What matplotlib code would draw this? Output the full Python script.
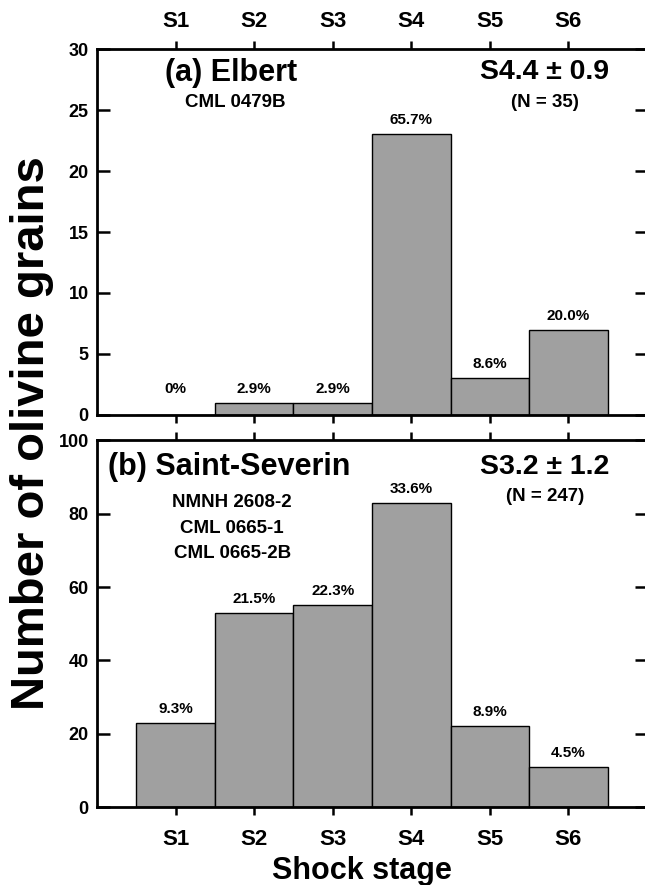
import numpy as np
import matplotlib.pyplot as plt

plt.rcParams['font.family'] = ['Liberation Sans', 'DejaVu Sans']
plt.rcParams['font.weight'] = 'bold'

stages = ['S1', 'S2', 'S3', 'S4', 'S5', 'S6']
elbert = [0, 1, 1, 23, 3, 7]
elbert_pct = ['0%', '2.9%', '2.9%', '65.7%', '8.6%', '20.0%']
severin = [23, 53, 55, 83, 22, 11]
severin_pct = ['9.3%', '21.5%', '22.3%', '33.6%', '8.9%', '4.5%']

pos = np.arange(1, 7)
bar_col = '#a0a0a0'

fig = plt.figure(figsize=(6.45, 8.85), dpi=100)
ax1 = fig.add_axes([0.1504, 0.5311, 0.8527, 0.4135])
ax2 = fig.add_axes([0.1504, 0.0881, 0.8527, 0.4142])

def style(ax, ymax, step, top_labels):
    ax.set_xlim(0, 7)
    ax.set_ylim(0, ymax)
    ax.set_xticks(pos)
    ax.set_xticklabels(stages)
    ax.set_yticks(np.arange(0, ymax + 1, step))
    for s in ax.spines.values():
        s.set_linewidth(2)
    ax.tick_params(axis='x', direction='out', length=6, width=1.8,
                   top=True, bottom=True, labeltop=top_labels,
                   labelbottom=not top_labels, labelsize=16,
                   pad=6 if top_labels else 10)
    ax.tick_params(axis='y', direction='in', length=9, width=1.8,
                   left=True, right=True, labelsize=13, pad=6)
    for lab in ax.get_xticklabels() + ax.get_yticklabels():
        lab.set_fontweight('bold')

# (a) Elbert
ax1.bar(pos, elbert, width=1, color=bar_col, edgecolor='black', linewidth=1)
for x, h, t in zip(pos, elbert, elbert_pct):
    ax1.annotate(t, (x, max(h, 1)), xytext=(0, 5), textcoords='offset points',
                 ha='center', va='bottom', fontsize=11, fontweight='bold')
style(ax1, 30, 5, True)
ax1.text(0.865, 28.0, '(a) Elbert', fontsize=22, fontweight='bold', ha='left', va='center')
ax1.text(1.76, 25.6, 'CML 0479B', fontsize=13.5, fontweight='bold', ha='center', va='center')
ax1.text(5.70, 28.1, 'S4.4 \u00b1 0.9', fontsize=20.5, fontweight='bold',
         ha='center', va='center')
ax1.text(5.70, 25.6, '(N = 35)', fontsize=13.5, fontweight='bold', ha='center', va='center')

# (b) Saint-Severin
ax2.bar(pos, severin, width=1, color=bar_col, edgecolor='black', linewidth=1)
for x, h, t in zip(pos, severin, severin_pct):
    ax2.annotate(t, (x, h), xytext=(0, 5), textcoords='offset points',
                 ha='center', va='bottom', fontsize=11, fontweight='bold')
style(ax2, 100, 20, False)
ax2.text(0.14, 92.8, '(b) Saint-Severin', fontsize=22, fontweight='bold', ha='left', va='center')
for y, t in zip([83.0, 75.9, 69.3], ['NMNH 2608-2', 'CML 0665-1', 'CML 0665-2B']):
    ax2.text(1.72, y, t, fontsize=13.5, fontweight='bold', ha='center', va='center')
ax2.text(5.70, 92.8, 'S3.2 \u00b1 1.2', fontsize=20.5, fontweight='bold',
         ha='center', va='center')
ax2.text(5.70, 84.6, '(N = 247)', fontsize=13.5, fontweight='bold', ha='center', va='center')

fig.text(32 / 645, 1 - 433 / 885, 'Number of olivine grains', rotation=90,
         fontsize=34, fontweight='bold', ha='center', va='center')
fig.text(362 / 645, 6 / 885, 'Shock stage', fontsize=22, fontweight='bold',
         ha='center', va='baseline')

fig.savefig('out.png', dpi=100)
